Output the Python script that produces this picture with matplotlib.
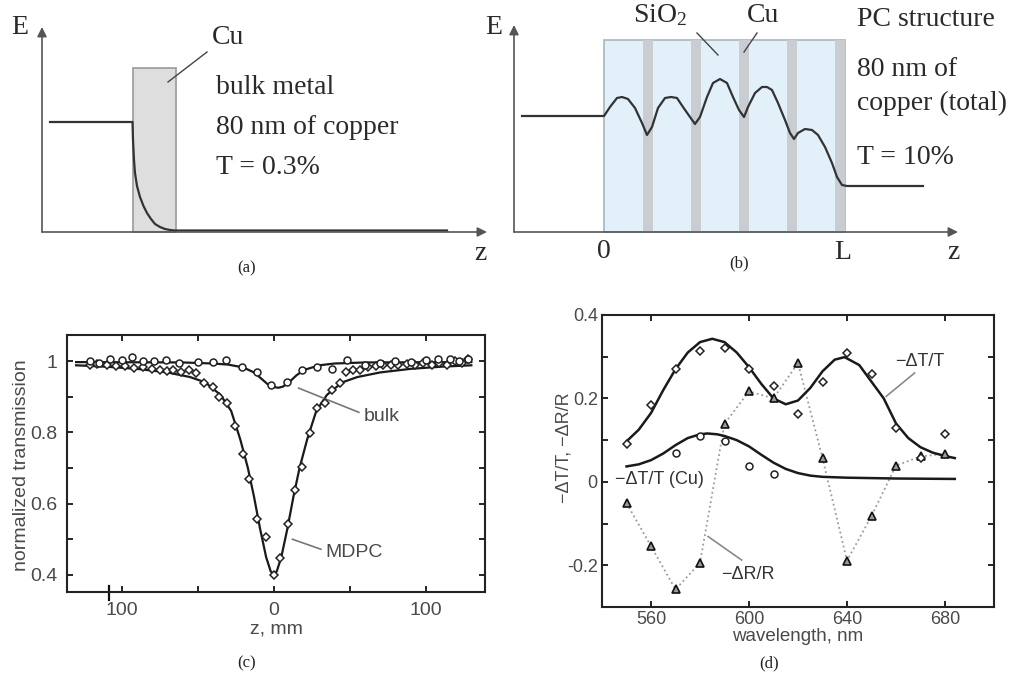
import numpy as np
import matplotlib
matplotlib.use("Agg")
import matplotlib.pyplot as plt
from matplotlib.patches import Rectangle

SERIF = ['Liberation Serif', 'DejaVu Serif']
SANS = ['Liberation Sans', 'DejaVu Sans']
plt.rcParams['font.family'] = SANS
plt.rcParams['mathtext.default'] = 'regular'

# === (a) bulk metal schematic: field profile (z, E) in sketch units ===
a_slab = (91, 134, 164)            # z0, z1, height of Cu slab
a_field_z = [8, 90.5, 91, 92, 93, 95, 98, 101.5, 105, 109, 113, 118, 123, 128, 133, 405]
a_field_E = [110, 110, 92, 72, 59, 46, 35, 26, 19, 13, 8, 5, 3, 2, 1.5, 1.5]

# === (b) photonic crystal schematic ===
b_box = (90, 331, 192)
b_cu_layers = [129, 177, 225, 273, 321]
b_cu_width = 10
b_field_z = [8, 90, 96, 103, 108, 114, 121, 128, 133, 138, 144, 151, 157, 163,
             169, 176, 181, 186, 193, 199, 206, 213, 219, 225, 230, 234, 241,
             248, 253, 258, 264, 271, 276, 280, 284, 291, 298, 304, 311, 318,
             323, 328, 333, 409]
b_field_E = [116, 116, 125, 134, 135, 133, 124, 109, 97, 105, 124, 134, 135, 134,
             125, 115, 108, 115, 135, 149, 153, 149, 135, 122, 115, 125, 139,
             145, 145, 142, 129, 112, 99, 93, 99, 103, 102, 97, 85, 69,
             55, 47, 46, 46]

# === (c) z-scan: normalized transmission ===
mdpc_z = [-121, -116, -110, -104, -98, -92, -86, -80, -75, -70, -66, -61, -56, -51,
          -46, -40, -36, -31, -25.4, -20.2, -16.2, -10.7, -5.3, 0, 4.2, 9.4, 13.8,
          18.9, 23.9, 28.7, 33.6, 38.2, 43.6, 47.4, 52, 57, 62, 67, 72, 77, 82, 88,
          93, 98, 104, 109, 114, 119, 124, 128]
mdpc_T = [0.99, 0.993, 0.99, 0.985, 0.985, 0.98, 0.982, 0.978, 0.975, 0.972, 0.975,
          0.970, 0.975, 0.967, 0.939, 0.928, 0.900, 0.881, 0.817, 0.738, 0.670,
          0.557, 0.507, 0.40, 0.447, 0.543, 0.637, 0.702, 0.798, 0.867, 0.881,
          0.918, 0.939, 0.970, 0.975, 0.975, 0.984, 0.985, 0.99, 0.988, 0.99,
          0.992, 0.99, 0.995, 0.99, 0.995, 0.99, 1.0, 0.995, 1.005]
bulk_z = [-121, -115, -108, -100, -93, -86, -79, -71, -62, -50, -40, -31.6, -20.6,
          -10.7, -1.5, 9, 18.9, 28.7, 38.6, 48.5, 60, 70, 80, 90, 100, 108, 116,
          122, 128]
bulk_T = [1.0, 0.995, 1.007, 1.003, 1.01, 1.0, 1.0, 1.003, 0.995, 0.998, 0.998,
          1.003, 0.982, 0.97, 0.932, 0.942, 0.975, 0.982, 0.979, 1.003, 0.99,
          0.995, 1.0, 0.998, 1.003, 1.007, 1.005, 1.0, 1.007]
mdpc_fit_z = [-130, -110, -90, -70, -55, -45, -35, -28, -22, -17, -13, -9, -5, -2,
              0, 2, 5, 9, 13, 17, 22, 28, 35, 45, 55, 70, 90, 110, 130]
mdpc_fit_T = [0.988, 0.984, 0.978, 0.968, 0.955, 0.940, 0.905, 0.86, 0.78, 0.70,
              0.62, 0.53, 0.45, 0.41, 0.40, 0.41, 0.45, 0.53, 0.62, 0.70, 0.78,
              0.86, 0.905, 0.940, 0.955, 0.968, 0.978, 0.984, 0.988]
bulk_fit_z = [-130, -60, -40, -30, -20, -13, -8, -4, 0, 3, 6, 10, 15, 20, 30, 40,
              60, 130]
bulk_fit_T = [0.997, 0.996, 0.993, 0.99, 0.982, 0.968, 0.95, 0.935, 0.927, 0.925,
              0.928, 0.94, 0.96, 0.975, 0.988, 0.993, 0.996, 0.997]

# === (d) pump-probe spectra ===
wl = [550, 560, 570, 580, 590, 600, 610, 620, 630, 640, 650, 660, 670, 680]
dTT = [0.091, 0.185, 0.271, 0.313, 0.321, 0.271, 0.229, 0.163, 0.239, 0.309,
       0.259, 0.129, 0.058, 0.115]
dRR = [-0.051, -0.154, -0.258, -0.194, 0.139, 0.217, 0.2, 0.285, 0.057, -0.189,
       -0.082, 0.039, 0.061, 0.067]
cu_wl = [570, 580, 590, 600, 610]
dTT_cu = [0.069, 0.109, 0.099, 0.038, 0.019]
fit_wl = [550, 555, 560, 565, 570, 575, 580, 585, 590, 595, 600, 605, 610, 615,
          620, 625, 630, 635, 639, 645, 650, 655, 660, 665, 670, 675, 680, 684]
fit_dTT = [0.097, 0.125, 0.165, 0.22, 0.27, 0.31, 0.335, 0.343, 0.335, 0.31,
           0.275, 0.235, 0.2, 0.186, 0.195, 0.225, 0.265, 0.293, 0.299, 0.28,
           0.24, 0.2, 0.14, 0.105, 0.083, 0.07, 0.062, 0.057]
fitcu_wl = [550, 555, 560, 565, 570, 575, 580, 583, 587, 590, 595, 600, 605, 610,
            615, 620, 625, 630, 640, 660, 684]
fit_dTT_cu = [0.037, 0.042, 0.052, 0.068, 0.088, 0.105, 0.114, 0.116, 0.114,
              0.11, 0.1, 0.085, 0.065, 0.046, 0.031, 0.021, 0.015, 0.012, 0.01,
              0.008, 0.007]

W, H = 1017, 682
fig = plt.figure(figsize=(W / 100, H / 100), dpi=100)


def px_axes(x0, y0, x1, y1):
    return fig.add_axes([x0 / W, 1 - y1 / H, (x1 - x0) / W, (y1 - y0) / H])


def arrow(ax, xy, xytext):
    ax.annotate('', xy=xy, xytext=xytext,
                arrowprops=dict(arrowstyle='-|>', color='#555555', lw=1.2,
                                mutation_scale=14, shrinkA=0, shrinkB=0))


txt = dict(family=SERIF, color='#2a2a2a', fontsize=20, va='center')

# --- (a) ---
axa = px_axes(0, 0, 500, 290)
axa.set_xlim(-42, 458)
axa.set_ylim(-58, 232)
axa.axis('off')
z0, z1, h = a_slab
axa.add_patch(Rectangle((z0, 0), z1 - z0, h, facecolor='#dedede',
                        edgecolor='#9a9a9a', lw=1.2))
arrow(axa, (0, 205), (0, 0))
arrow(axa, (445, 0), (0, 0))
axa.plot(a_field_z, a_field_E, color='#333333', lw=1.6)
axa.plot([165, 126], [180, 150], color='#444444', lw=1)
axa.text(170, 194, 'Cu', **txt)
axa.text(174, 144, 'bulk metal', **txt)
axa.text(174, 105, '80 nm of copper', **txt)
axa.text(174, 65, 'T = 0.3%', **txt)
axa.text(-22, 204, 'E', ha='center', **txt)
axa.text(438, -21, 'z', ha='center', **txt)
axa.text(205, -36, '(a)', family=SERIF, fontsize=12, ha='center', va='center',
         color='#222222')

# --- (b) ---
axb = px_axes(500, 0, 1017, 290)
axb.set_xlim(-14, 503)
axb.set_ylim(-58, 232)
axb.axis('off')
bz0, bz1, bh = b_box
axb.add_patch(Rectangle((bz0, 0), bz1 - bz0, bh, facecolor='#e2f1f9',
                        edgecolor='#a9b6be', lw=1.2))
for zc in b_cu_layers:
    axb.add_patch(Rectangle((zc, 0), b_cu_width, bh, facecolor='#c9cdd1',
                            edgecolor='none'))
arrow(axb, (0, 207), (0, 0))
arrow(axb, (444, 0), (0, 0))
axb.plot(b_field_z, b_field_E, color='#333333', lw=1.6)
axb.plot([183, 204], [199, 177], color='#444444', lw=1)
axb.plot([243, 230], [199, 180], color='#444444', lw=1)
axb.text(119, 217, r'SiO$_{\mathregular{2}}$', **txt)
axb.text(233, 217, 'Cu', **txt)
axb.text(343, 212, 'PC structure', **txt)
axb.text(343, 162, '80 nm of', **txt)
axb.text(343, 129, 'copper (total)', **txt)
axb.text(343, 75, 'T = 10%', **txt)
axb.text(-20, 204, 'E', ha='center', **txt)
axb.text(90, -19, '0', ha='center', **txt)
axb.text(329, -20, 'L', ha='center', **txt)
axb.text(439, -20, 'z', ha='center', **txt)
axb.text(225, -31, '(b)', family=SERIF, fontsize=12, ha='center', va='center',
         color='#222222')


def style_box(ax, size, pad):
    for s in ax.spines.values():
        s.set_linewidth(1.5)
        s.set_color('#222222')
    ax.tick_params(direction='in', top=True, right=True, length=4, width=1.2,
                   labelsize=size, labelcolor='#4a4a4a', pad=pad)


# --- (c) ---
axc = px_axes(67, 335, 485, 592)
axc.plot(mdpc_fit_z, mdpc_fit_T, color='#1a1a1a', lw=1.6, zorder=2)
axc.plot(bulk_fit_z, bulk_fit_T, color='#1a1a1a', lw=1.6, zorder=2)
axc.plot(mdpc_z, mdpc_T, ls='none', marker='D', ms=4.2, mfc='white',
         mec='#222222', mew=1.1, zorder=3)
axc.plot(bulk_z, bulk_T, ls='none', marker='o', ms=5, mfc='white',
         mec='#222222', mew=1.1, zorder=3)
axc.set_xlim(-136, 139)
axc.set_ylim(0.352, 1.073)
axc.set_xticks([-100, -50, 0, 50, 100])
axc.set_xticklabels(['100', '', '0', '', '100'])
axc.set_yticks([0.4, 0.5, 0.6, 0.7, 0.8, 0.9, 1.0])
axc.set_yticklabels(['0.4', '', '0.6', '', '0.8', '', '1'])
style_box(axc, 14, 7)
axc.plot([-108.5, -108.5], [0.33, 0.37], color='#111111', lw=1.6, clip_on=False)
axc.set_xlabel('z, mm', fontsize=14, color='#4a4a4a', labelpad=1)
axc.set_ylabel('normalized transmission', fontsize=14, color='#4a4a4a')
axc.yaxis.set_label_coords(-0.088, 0.495)
axc.plot([16.4, 56], [0.924, 0.856], color='#777777', lw=1.2)
axc.text(59, 0.845, 'bulk', fontsize=14, color='#4a4a4a', va='center')
axc.plot([12.3, 31], [0.50, 0.472], color='#777777', lw=1.2)
axc.text(34, 0.463, 'MDPC', fontsize=14, color='#4a4a4a', va='center')

# --- (d) ---
axd = px_axes(602, 315, 994, 607)
axd.plot(wl, dRR, color='#9a9a9a', ls=':', lw=1.3, zorder=1)
axd.plot(fit_wl, fit_dTT, color='#1a1a1a', lw=1.8, zorder=2)
axd.plot(fitcu_wl, fit_dTT_cu, color='#1a1a1a', lw=1.8, zorder=2)
axd.plot(wl, dRR, ls='none', marker='^', ms=6, mfc='#9a9a9a',
         mec='#111111', mew=1.2, zorder=3)
axd.plot(wl, dTT, ls='none', marker='D', ms=4.2, mfc='white',
         mec='#222222', mew=1.1, zorder=3)
axd.plot(cu_wl, dTT_cu, ls='none', marker='o', ms=5, mfc='white',
         mec='#222222', mew=1.1, zorder=3)
axd.set_xlim(540, 700)
axd.set_ylim(-0.3, 0.4)
axd.set_xticks([560, 600, 640, 680])
axd.set_yticks([-0.2, -0.1, 0, 0.1, 0.2, 0.3, 0.4])
axd.set_yticklabels(['-0.2', '', '0', '', '0.2', '', '0.4'])
style_box(axd, 13, 3)
axd.set_xlabel('wavelength, nm', fontsize=13.5, color='#4a4a4a', labelpad=0)
axd.set_ylabel('\u2212\u0394T/T, \u2212\u0394R/R', fontsize=13, color='#4a4a4a')
axd.yaxis.set_label_coords(-0.075, 0.545)
axd.plot([656, 667.6], [0.205, 0.261], color='#8a8a8a', lw=1.2)
axd.text(659.5, 0.289, '\u2212\u0394T/T', fontsize=13, color='#333333',
         va='center')
axd.text(545.3, 0.005, '\u2212\u0394T/T (Cu)', fontsize=13, color='#333333',
         va='center')
axd.plot([583.3, 597], [-0.131, -0.1875], color='#8a8a8a', lw=1.2)
axd.text(588.8, -0.222, '\u2212\u0394R/R', fontsize=13, color='#333333',
         va='center')

fig.text(247 / W, 1 - 663 / H, '(c)', family=SERIF, fontsize=12, ha='center',
         va='center', color='#222222')
fig.text(769 / W, 1 - 663 / H, '(d)', family=SERIF, fontsize=12, ha='center',
         va='center', color='#222222')

fig.savefig('out.png', dpi=100, facecolor='white')
